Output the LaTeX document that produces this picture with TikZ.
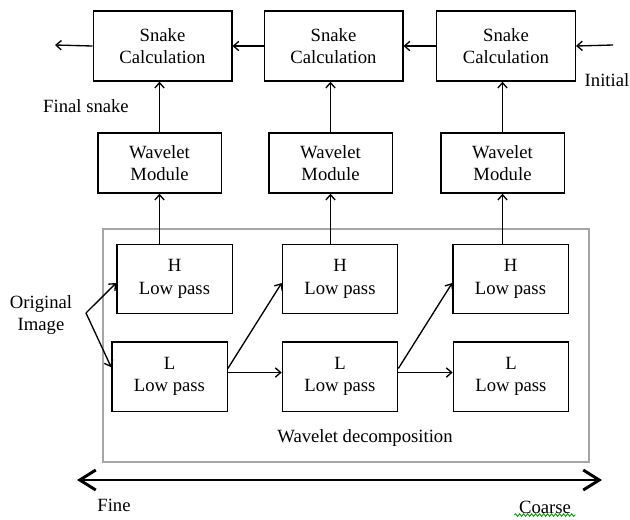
\documentclass[tikz,border=0pt]{standalone}
\usepackage{fontspec}
\setmainfont{Liberation Serif}
\usetikzlibrary{arrows.meta,decorations.pathmorphing}
\begin{document}
\begin{tikzpicture}[x=0.75pt,y=-0.75pt,
  box/.style={draw,line width=1pt,align=center,inner sep=0pt,font=\fontsize{14}{17}\selectfont},
  snakebox/.style={box,minimum width=104pt,minimum height=52.5pt},
  wavebox/.style={box,minimum width=92.5pt,minimum height=45pt},
  passbox/.style={box,minimum width=86.5pt,minimum height=52pt},
  arr/.style={-{Straight Barb[length=4pt,width=7pt]},line width=1pt},
  lbl/.style={font=\fontsize{14}{17}\selectfont}]
\useasboundingbox (0,0) rectangle (630,519);
\draw[gray!70,line width=0.9pt] (103,229) rectangle (589,462);
\node[snakebox] (snake1) at (162.5,46) {Snake\\Calculation};
\node[snakebox] (snake2) at (333.5,46) {Snake\\Calculation};
\node[snakebox] (snake3) at (506,46) {Snake\\Calculation};
\node[wavebox] (wave1) at (159.5,163) {Wavelet\\Module};
\node[wavebox] (wave2) at (330.5,163) {Wavelet\\Module};
\node[wavebox] (wave3) at (502.5,163) {Wavelet\\Module};
\node[passbox] (high1) at (174.5,279) {H\\Low pass};
\node[passbox] (high2) at (340,279) {H\\Low pass};
\node[passbox] (high3) at (510.5,279) {H\\Low pass};
\node[passbox] (low1) at (169.5,376.5) {L\\Low pass};
\node[passbox] (low2) at (340,376.5) {L\\Low pass};
\node[passbox] (low3) at (511,376.5) {L\\Low pass};
\node[lbl] (final) at (86,106) {Final snake};
\node[lbl] (initial) at (607,80) {Initial};
\node[lbl,align=center] (orig) at (41,315) {Original\\Image};
\node[lbl] (decomp) at (365,438) {Wavelet decomposition};
\node[lbl] (fine) at (114,505) {Fine};
\node[lbl] (coarse) at (545,507) {Coarse};
\coordinate (out) at (55,45);
\coordinate (in) at (613,45);
\coordinate (split) at (86,313);
\coordinate (finetip) at (77,480);
\coordinate (coarsetip) at (602,480);
\draw[arr] (snake1.west) -- (out);
\draw[arr] (snake2.west) -- (snake1.east);
\draw[arr] (snake3.west) -- (snake2.east);
\draw[arr] (in) -- (snake3.east);
\draw[arr] (wave1.north) -- (wave1.north |- snake1.south);
\draw[arr] (wave2.north) -- (wave2.north |- snake2.south);
\draw[arr] (wave3.north) -- (wave3.north |- snake3.south);
\draw[arr] (wave1.south |- high1.north) -- (wave1.south);
\draw[arr] (wave2.south |- high2.north) -- (wave2.south);
\draw[arr] (wave3.south |- high3.north) -- (wave3.south);
\draw[arr] (split) -- ([yshift=-3pt]high1.west);
\draw[arr] (split) -- ([yshift=7pt]low1.west);
\draw[arr] ([yshift=6pt]low1.east) -- ([yshift=-3pt]high2.west);
\draw[arr] ([yshift=3pt]low1.east) -- ([yshift=3pt]low2.west);
\draw[arr] ([yshift=6pt]low2.east) -- ([yshift=-3pt]high3.west);
\draw[arr] ([yshift=3pt]low2.east) -- ([yshift=3pt]low3.west);
\draw[{Straight Barb[length=12pt,width=15pt]}-{Straight Barb[length=12pt,width=15pt]},line width=2.2pt] (finetip) -- (coarsetip);
\draw[green!60!black,line width=0.6pt,decoration={snake,amplitude=1pt,segment length=3pt},decorate] (coarse.west |- 0,515) -- (coarse.east |- 0,515);
\end{tikzpicture}
\end{document}
